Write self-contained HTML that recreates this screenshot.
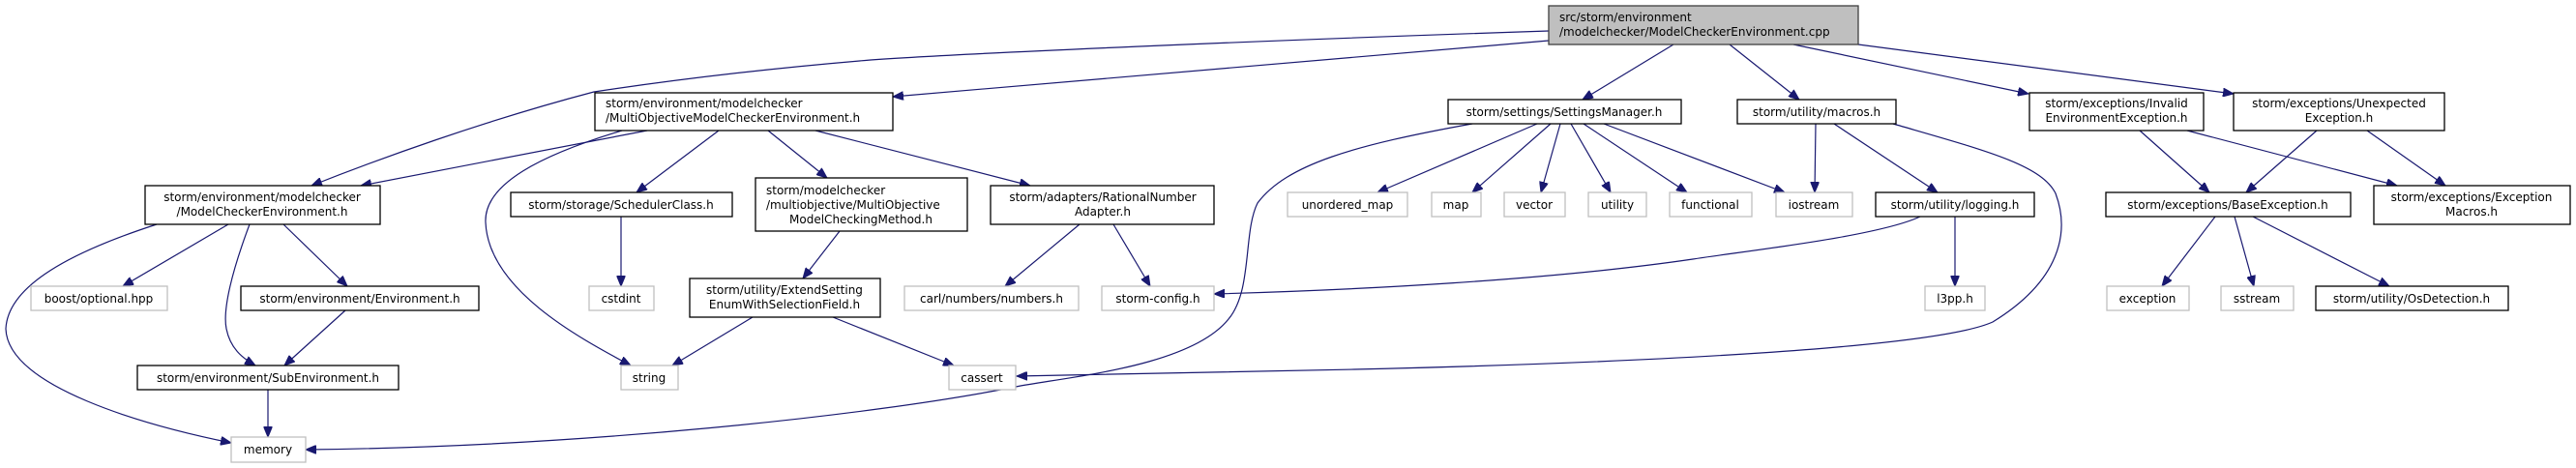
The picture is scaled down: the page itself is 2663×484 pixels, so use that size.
<!DOCTYPE html>
<html><head><meta charset="utf-8"><style>
html,body{margin:0;padding:0;background:#fff;}
svg{display:block;}
text{font-family:"DejaVu Sans","Liberation Sans",sans-serif;font-size:12px;fill:#000;}
.n{fill:#fff;stroke:#000;stroke-width:1.3;}
.g{fill:#fff;stroke:#bfbfbf;stroke-width:1.3;}
.r{fill:#bfbfbf;stroke:#404040;stroke-width:1.3;}
.e{fill:none;stroke:#191970;stroke-width:1.2;}
</style></head><body>
<svg width="2663" height="484" viewBox="0 0 2663 484" xmlns="http://www.w3.org/2000/svg">
<defs>
<marker id="a" markerWidth="12" markerHeight="9" refX="11" refY="4.5" orient="auto" markerUnits="userSpaceOnUse">
<path d="M0,0 L11,4.5 L0,9 z" fill="#191970" stroke="#191970"/>
</marker>
</defs>
<g marker-end="url(#a)">
<path class="e" d="M1601,32 C1300,42 1000,55 900,62 C780,72 680,85 614,95 C500,125 390,165 322,192"/>
<path class="e" d="M1601,42 L923,100"/>
<path class="e" d="M1730,46 L1636,103"/>
<path class="e" d="M1788,46 L1860,103"/>
<path class="e" d="M1854,46 L2097,97"/>
<path class="e" d="M1921,46 L2309,97"/>
<path class="e" d="M669,135 L373,192"/>
<path class="e" d="M643,135 C560,160 500,190 502,230 C505,300 600,350 652,378"/>
<path class="e" d="M743,135 L658,199"/>
<path class="e" d="M794,135 L855,184"/>
<path class="e" d="M843,135 L1065,192"/>
<path class="e" d="M162,232 C60,265 8,300 6,340 C8,400 150,440 239,458"/>
<path class="e" d="M236,232 L127,296"/>
<path class="e" d="M258,232 C240,280 230,320 234,340 C238,360 250,370 264,378"/>
<path class="e" d="M293,232 L359,296"/>
<path class="e" d="M357,321 L294,378"/>
<path class="e" d="M277,403 L277,452"/>
<path class="e" d="M642,224 L642,296"/>
<path class="e" d="M868,239 L830,288"/>
<path class="e" d="M778,328 L695,378"/>
<path class="e" d="M861,328 L986,378"/>
<path class="e" d="M1116,232 L1039,296"/>
<path class="e" d="M1151,232 L1189,296"/>
<path class="e" d="M1522,128 C1400,150 1330,170 1300,210 C1285,240 1295,300 1270,330 C1230,380 1100,390 1050,400 C900,430 600,462 316,465"/>
<path class="e" d="M1589,128 L1424,199"/>
<path class="e" d="M1603,128 L1522,199"/>
<path class="e" d="M1613,128 L1593,199"/>
<path class="e" d="M1624,128 L1665,199"/>
<path class="e" d="M1637,128 L1744,199"/>
<path class="e" d="M1658,128 L1845,199"/>
<path class="e" d="M1877,128 L1876,199"/>
<path class="e" d="M1896,128 L2003,199"/>
<path class="e" d="M1957,128 C2050,155 2110,170 2125,200 C2140,240 2130,290 2060,333 C2000,360 1700,375 1400,382 L1051,389"/>
<path class="e" d="M1985,224 C1940,245 1800,260 1750,268 C1600,290 1400,300 1255,304"/>
<path class="e" d="M2021,224 L2021,296"/>
<path class="e" d="M2212,135 L2284,199"/>
<path class="e" d="M2261,135 L2478,192"/>
<path class="e" d="M2395,135 L2322,199"/>
<path class="e" d="M2447,135 L2528,192"/>
<path class="e" d="M2290,224 L2235,296"/>
<path class="e" d="M2310,224 L2330,296"/>
<path class="e" d="M2329,224 L2470,296"/>
</g>

<!-- root -->
<rect class="r" x="1601" y="6" width="320" height="40"/>
<text x="1612" y="22">src/storm/environment</text>
<text x="1612" y="37">/modelchecker/ModelCheckerEnvironment.cpp</text>

<rect class="n" x="615" y="96" width="308" height="39"/>
<text x="626" y="111">storm/environment/modelchecker</text>
<text x="626" y="126">/MultiObjectiveModelCheckerEnvironment.h</text>

<rect class="n" x="1497" y="103" width="241" height="25"/>
<text x="1617" y="120" text-anchor="middle">storm/settings/SettingsManager.h</text>

<rect class="n" x="1796" y="103" width="164" height="25"/>
<text x="1878" y="120" text-anchor="middle">storm/utility/macros.h</text>

<rect class="n" x="2098" y="96" width="180" height="39"/>
<text x="2188" y="111" text-anchor="middle">storm/exceptions/Invalid</text>
<text x="2188" y="126" text-anchor="middle">EnvironmentException.h</text>

<rect class="n" x="2309" y="96" width="218" height="39"/>
<text x="2418" y="111" text-anchor="middle">storm/exceptions/Unexpected</text>
<text x="2418" y="126" text-anchor="middle">Exception.h</text>

<rect class="n" x="150" y="192" width="243" height="40"/>
<text x="271" y="208" text-anchor="middle">storm/environment/modelchecker</text>
<text x="271" y="223" text-anchor="middle">/ModelCheckerEnvironment.h</text>

<rect class="n" x="528" y="199" width="229" height="25"/>
<text x="642" y="216" text-anchor="middle">storm/storage/SchedulerClass.h</text>

<rect class="n" x="781" y="184" width="219" height="55"/>
<text x="792" y="201">storm/modelchecker</text>
<text x="792" y="216">/multiobjective/MultiObjective</text>
<text x="890" y="231" text-anchor="middle">ModelCheckingMethod.h</text>

<rect class="n" x="1024" y="192" width="231" height="40"/>
<text x="1140" y="208" text-anchor="middle">storm/adapters/RationalNumber</text>
<text x="1140" y="223" text-anchor="middle">Adapter.h</text>

<rect class="g" x="1331" y="199" width="124" height="25"/>
<text x="1393" y="216" text-anchor="middle">unordered_map</text>
<rect class="g" x="1480" y="199" width="51" height="25"/>
<text x="1505" y="216" text-anchor="middle">map</text>
<rect class="g" x="1555" y="199" width="63" height="25"/>
<text x="1586" y="216" text-anchor="middle">vector</text>
<rect class="g" x="1642" y="199" width="60" height="25"/>
<text x="1672" y="216" text-anchor="middle">utility</text>
<rect class="g" x="1726" y="199" width="85" height="25"/>
<text x="1768" y="216" text-anchor="middle">functional</text>
<rect class="g" x="1836" y="199" width="79" height="25"/>
<text x="1875" y="216" text-anchor="middle">iostream</text>

<rect class="n" x="1939" y="199" width="164" height="25"/>
<text x="2021" y="216" text-anchor="middle">storm/utility/logging.h</text>

<rect class="n" x="2177" y="199" width="253" height="25"/>
<text x="2303" y="216" text-anchor="middle">storm/exceptions/BaseException.h</text>

<rect class="n" x="2454" y="192" width="203" height="40"/>
<text x="2555" y="208" text-anchor="middle">storm/exceptions/Exception</text>
<text x="2555" y="223" text-anchor="middle">Macros.h</text>

<rect class="g" x="32" y="296" width="141" height="25"/>
<text x="102" y="313" text-anchor="middle">boost/optional.hpp</text>

<rect class="n" x="249" y="296" width="246" height="25"/>
<text x="372" y="313" text-anchor="middle">storm/environment/Environment.h</text>

<rect class="g" x="609" y="296" width="67" height="25"/>
<text x="642" y="313" text-anchor="middle">cstdint</text>

<rect class="n" x="713" y="288" width="197" height="40"/>
<text x="811" y="304" text-anchor="middle">storm/utility/ExtendSetting</text>
<text x="811" y="319" text-anchor="middle">EnumWithSelectionField.h</text>

<rect class="g" x="935" y="296" width="180" height="25"/>
<text x="1025" y="313" text-anchor="middle">carl/numbers/numbers.h</text>

<rect class="g" x="1139" y="296" width="116" height="25"/>
<text x="1197" y="313" text-anchor="middle">storm-config.h</text>

<rect class="g" x="1990" y="296" width="62" height="25"/>
<text x="2021" y="313" text-anchor="middle">l3pp.h</text>

<rect class="g" x="2178" y="296" width="85" height="25"/>
<text x="2220" y="313" text-anchor="middle">exception</text>
<rect class="g" x="2296" y="296" width="75" height="25"/>
<text x="2333" y="313" text-anchor="middle">sstream</text>
<rect class="n" x="2394" y="296" width="199" height="25"/>
<text x="2493" y="313" text-anchor="middle">storm/utility/OsDetection.h</text>

<rect class="n" x="142" y="378" width="270" height="25"/>
<text x="277" y="395" text-anchor="middle">storm/environment/SubEnvironment.h</text>

<rect class="g" x="642" y="378" width="59" height="25"/>
<text x="671" y="395" text-anchor="middle">string</text>

<rect class="g" x="981" y="378" width="69" height="25"/>
<text x="1015" y="395" text-anchor="middle">cassert</text>

<rect class="g" x="239" y="452" width="77" height="26"/>
<text x="277" y="469" text-anchor="middle">memory</text>
</svg>
</body></html>
